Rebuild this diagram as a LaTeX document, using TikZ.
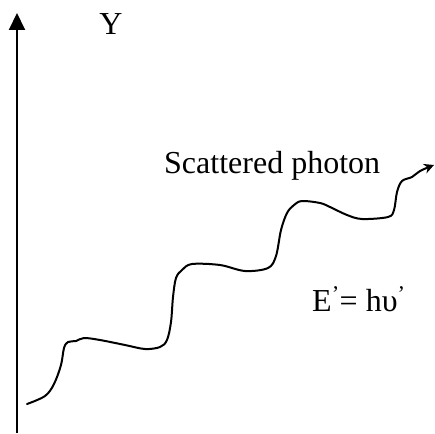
\documentclass[tikz,border=0pt]{standalone}
\usepackage{fontspec}
\setmainfont{Liberation Serif}
\usetikzlibrary{arrows.meta}
\begin{document}
\begin{tikzpicture}[x=1pt,y=-1pt,
  lbl/.style={inner sep=0pt,font=\fontsize{32}{37}\selectfont},
  axisline/.style={line width=2pt,-{Triangle[width=16pt,length=17pt]}},
  wave/.style={line width=2pt,line cap=round,line join=round,-{Stealth[width=10pt,length=10pt]}}]
\useasboundingbox (0,0) rectangle (435,433);
\coordinate (ybot) at (17,433);
\coordinate (ytop) at (17,13);
\draw[axisline] (ybot) -- (ytop);
\node[lbl,anchor=base] (ylab) at (111,35) {Y};
\node[lbl,anchor=base west] (sp) at (164,173) {Scattered photon};
\node[lbl,anchor=base west] (en) at (312,311) {E\textsuperscript{’}= hυ\textsuperscript{’}};
\draw[wave] plot[smooth,tension=0.55] coordinates {
(27,404) (45,396) (54,384) (61,365) (64,348) (68,342) (76,341) (84,338)
(100,340) (125,345) (145,349) (160,347) (167,340) (171,322) (173,297)
(176,278) (182,270) (192,264) (220,265) (245,271) (268,268) (276,256)
(281,230) (287,213) (294,205) (302,201) (320,203) (330,207) (347,215)
(362,219) (388,217) (394,210) (397,192) (402,181) (412,177) (420,171) (434,165)};
\end{tikzpicture}
\end{document}
